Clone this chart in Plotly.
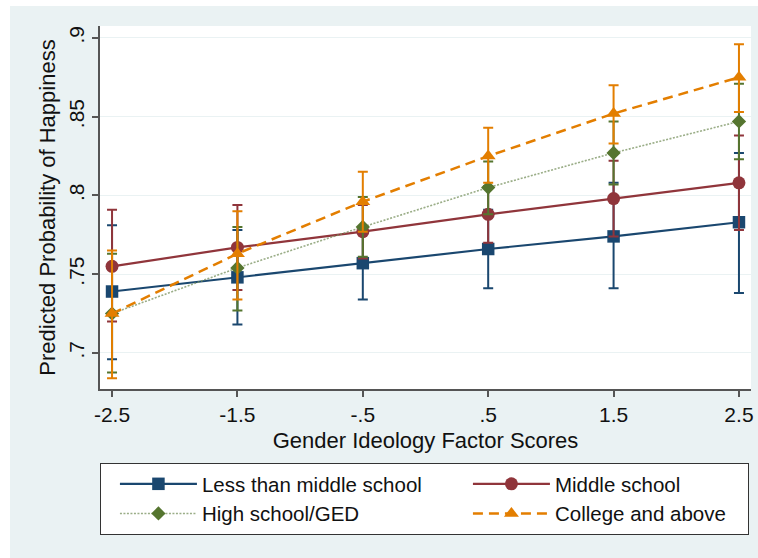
import plotly.graph_objects as go

# ---- data ----
x_scores = [-2.5, -1.5, -0.5, 0.5, 1.5, 2.5]
x_ticktext = ["-2.5", "-1.5", "-.5", ".5", "1.5", "2.5"]
y_tickvals = [0.7, 0.75, 0.8, 0.85, 0.9]
y_ticktext = [".7", ".75", ".8", ".85", ".9"]

less_mid = [0.739, 0.748, 0.757, 0.766, 0.774, 0.783]
less_mid_lo = [0.696, 0.718, 0.734, 0.741, 0.741, 0.738]
less_mid_hi = [0.781, 0.778, 0.780, 0.791, 0.808, 0.827]

middle = [0.755, 0.767, 0.777, 0.788, 0.798, 0.808]
middle_lo = [0.720, 0.740, 0.760, 0.770, 0.774, 0.778]
middle_hi = [0.791, 0.794, 0.794, 0.806, 0.822, 0.838]

high = [0.725, 0.754, 0.780, 0.805, 0.827, 0.847]
high_lo = [0.6875, 0.727, 0.761, 0.788, 0.807, 0.823]
high_hi = [0.763, 0.780, 0.799, 0.8215, 0.847, 0.871]

college = [0.725, 0.763, 0.796, 0.825, 0.852, 0.875]
college_lo = [0.684, 0.734, 0.777, 0.808, 0.833, 0.853]
college_hi = [0.765, 0.790, 0.815, 0.843, 0.870, 0.896]

series = [
    ("Less than middle school", less_mid, less_mid_lo, less_mid_hi,
     "#1a476f", "#1a476f", "solid", 2.2, "square", 12.5, 247),
    ("Middle school", middle, middle_lo, middle_hi,
     "#90353b", "#90353b", "solid", 2.2, "circle", 13, 188),
    ("High school/GED", high, high_lo, high_hi,
     "#55752f", "rgba(120,145,95,0.75)", "2px,1.5px", 1.6, "diamond", 11, 247),
    ("College and above", college, college_lo, college_hi,
     "#e37e00", "#e37e00", "10px,6px", 2.5, "triangle-up", 13, 188),
]

W, H = 758, 558
L, R, T, B = 100, 7, 26, 169
pw, ph = W - L - R, H - T - B

def px_x(px):
    return (px - L) / pw

def px_y(py):
    return (H - B - py) / ph

fig = go.Figure()
for name, yv, lo, hi, col, lcol, dash, lw, sym, ms, lwid in series:
    fig.add_trace(go.Scatter(
        x=x_scores, y=yv, name=name, mode="lines+markers",
        line=dict(color=lcol, width=lw, dash=dash),
        marker=dict(symbol=sym, size=ms, color=col, line=dict(width=0)),
        error_y=dict(type="data", symmetric=False,
                     array=[h - v for h, v in zip(hi, yv)],
                     arrayminus=[v - l for v, l in zip(yv, lo)],
                     color=col, thickness=2, width=5),
        legendwidth=lwid,
    ))

font_family = "Liberation Sans, Arial, sans-serif"
axis_col = "#555555"

fig.update_layout(
    width=W, height=H,
    margin=dict(l=L, r=R, t=T, b=B, autoexpand=False),
    paper_bgcolor="#eaf2f3",
    plot_bgcolor="white",
    font=dict(family=font_family, color="#111111"),
    showlegend=True,
    legend=dict(
        orientation="h", x=-0.0001, xanchor="left",
        y=px_y(463), yanchor="top",
        itemwidth=77, entrywidthmode="pixels", indentation=14,
        bgcolor="white", bordercolor="#333333", borderwidth=1,
        font=dict(size=20.5, family=font_family, color="#111111"),
        traceorder="normal",
    ),
    xaxis=dict(
        range=[-2.596, 2.596], tickvals=x_scores, ticktext=x_ticktext,
        showgrid=False, zeroline=False,
        showline=True, linecolor=axis_col, linewidth=1.5,
        ticks="outside", ticklen=6, tickwidth=1.5, tickcolor=axis_col,
        tickfont=dict(size=21),
        title=dict(text="Gender Ideology Factor Scores", font=dict(size=22), standoff=8),
        automargin=False,
    ),
    yaxis=dict(
        range=[0.6771, 0.9076], tickvals=y_tickvals, ticktext=y_ticktext,
        tickangle=-90,
        showgrid=True, gridcolor="#eaf2f3", gridwidth=1.2, zeroline=False,
        showline=True, linecolor=axis_col, linewidth=1.5,
        ticks="outside", ticklen=6, tickwidth=1.5, tickcolor=axis_col,
        tickfont=dict(size=21),
        title=dict(text="Predicted Probability of Happiness", font=dict(size=22), standoff=3),
        automargin=False,
    ),
    shapes=[
        dict(type="rect", xref="paper", yref="paper", layer="above",
             x0=px_x(0), x1=px_x(10), y0=px_y(H), y1=px_y(0),
             fillcolor="white", line=dict(width=0)),
        dict(type="rect", xref="paper", yref="paper", layer="above",
             x0=px_x(0), x1=px_x(W), y0=px_y(6), y1=px_y(0),
             fillcolor="white", line=dict(width=0)),
    ],
)

fig.write_html(
    "out.html",
    config={"displayModeBar": False},
    post_script="document.body.style.margin='0';"
                "document.body.style.overflow='hidden';",
)
